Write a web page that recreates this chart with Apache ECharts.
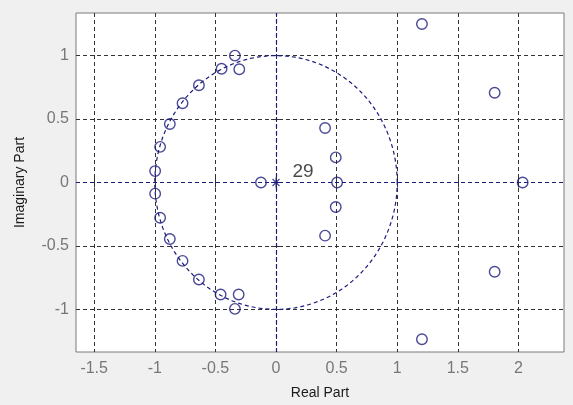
<!DOCTYPE html>
<html>
<head>
<meta charset="utf-8">
<script src="https://cdn.jsdelivr.net/npm/echarts@6/dist/echarts.min.js"></script>
<style>
html,body{margin:0;padding:0;background:#f0f0f0;}
#chart{width:573px;height:405px;}
</style>
</head>
<body>
<div id="chart"></div>
<script>
// ---- data ----
const zeroRe = [-0.339, -0.303, -0.449, -0.636, -0.771, -0.876, -0.956, -0.997,
                -0.997, -0.956, -0.876, -0.771, -0.636, -0.457, -0.308, -0.339,
                -0.124, 0.405, 0.493, 0.504, 0.493, 0.405,
                1.204, 1.804, 1.804, 1.204, 2.035];
const zeroIm = [1.000, 0.893, 0.896, 0.767, 0.625, 0.461, 0.281, 0.090,
                -0.088, -0.278, -0.445, -0.618, -0.765, -0.883, -0.883, -0.996,
                0, 0.430, 0.198, 0, -0.193, -0.419,
                1.249, 0.708, -0.703, -1.236, 0];
const poleRe = [0];
const poleIm = [0];
const poleOrder = ['29'];
const xTicks = [-1.5, -1, -0.5, 0, 0.5, 1, 1.5, 2];
const yTicks = [-1, -0.5, 0, 0.5, 1];
const xRange = [-1.65, 2.376];
const yRange = [-1.336, 1.336];

// ---- style ----
const NAVY = '#1c1c7c';
const GRIDC = '#333333';
const FONT = '"Liberation Sans", Arial, sans-serif';

// unit circle reference (geometry, not data)
const unitCircle = [];
for (let i = 0; i <= 120; i++) {
  const t = i / 120 * 2 * Math.PI;
  unitCircle.push([Math.cos(t), Math.sin(t)]);
}

const zeros = zeroRe.map((x, i) => [x, zeroIm[i]]);
const poles = poleRe.map((x, i) => [x, poleIm[i], poleOrder[i]]);

function makeX(pos, showLabel) {
  return {
    type: 'value', position: pos, min: xRange[0], max: xRange[1],
    axisLine: { show: false },
    axisTick: { show: true, inside: true, length: 5, customValues: xTicks,
                lineStyle: { color: GRIDC } },
    axisLabel: { show: showLabel, customValues: xTicks, margin: 9,
                 color: '#777777', fontSize: 16, fontFamily: FONT,
                 formatter: v => String(v) },
    splitLine: { show: showLabel, lineStyle: { color: GRIDC, type: [4, 3], width: 1 } },
    name: showLabel ? 'Real Part' : '',
    nameLocation: 'middle', nameGap: 34,
    nameTextStyle: { color: '#1a1a1a', fontSize: 14, fontFamily: FONT }
  };
}
function makeY(pos, showLabel) {
  return {
    type: 'value', position: pos, min: yRange[0], max: yRange[1],
    axisLine: { show: false },
    axisTick: { show: true, inside: true, length: 5, customValues: yTicks,
                lineStyle: { color: GRIDC } },
    axisLabel: { show: showLabel, customValues: yTicks, margin: 7,
                 color: '#777777', fontSize: 16, fontFamily: FONT,
                 formatter: v => String(v) },
    splitLine: { show: showLabel, lineStyle: { color: GRIDC, type: [4, 3], width: 1 } },
    name: showLabel ? 'Imaginary Part' : '',
    nameLocation: 'middle', nameGap: 49,
    nameTextStyle: { color: '#1a1a1a', fontSize: 14, fontFamily: FONT }
  };
}

const chart = echarts.init(document.getElementById('chart'), null, { renderer: 'canvas' });
chart.setOption({
  backgroundColor: '#f0f0f0',
  animation: false,
  grid: { left: 76, top: 13, width: 488, height: 346,
          show: true, backgroundColor: '#ffffff', borderColor: '#7a7a7a', borderWidth: 1 },
  xAxis: [makeX('bottom', true), makeX('top', false)],
  yAxis: [makeY('left', true), makeY('right', false)],
  series: [
    {
      type: 'line', data: unitCircle, showSymbol: false, silent: true, z: 2,
      lineStyle: { color: NAVY, width: 1.2, type: [4, 3] },
      markLine: {
        silent: true, symbol: 'none', label: { show: false },
        lineStyle: { color: NAVY, width: 1.2, type: [4, 3] },
        data: [{ xAxis: 0 }, { yAxis: 0 }]
      }
    },
    {
      type: 'scatter', data: zeros, symbol: 'circle', symbolSize: 10.5, z: 4,
      itemStyle: { color: 'rgba(0,0,0,0)', borderColor: NAVY, borderWidth: 1.4 }
    },
    {
      type: 'scatter', data: poles, z: 5,
      symbol: 'path://M0,5L10,5M5,0L5,10M1.5,1.5L8.5,8.5M1.5,8.5L8.5,1.5',
      symbolSize: 10,
      itemStyle: { color: 'rgba(0,0,0,0)', borderColor: NAVY, borderWidth: 1.2 },
      label: {
        show: true, formatter: p => p.data[2], position: 'inside', offset: [27, -11],
        color: '#1a1a1a', fontSize: 19, fontFamily: FONT
      }
    }
  ]
});
</script>
</body>
</html>
